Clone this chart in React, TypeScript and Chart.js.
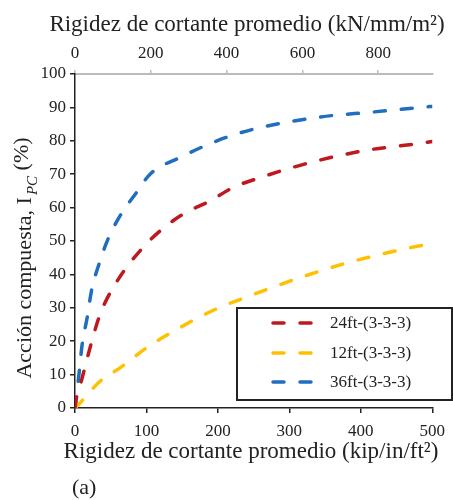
import React, { useEffect, useRef } from 'react';
import { Chart, registerables } from 'chart.js';

Chart.register(...registerables);

const FONT = '"Liberation Serif", "Times New Roman", Times, serif';

// Series data (x: kip/in/ft², y: %)
const red24X = [0, 2, 5, 10, 21, 35, 59, 95, 119, 151, 189, 221, 258, 333, 409, 486, 500];
const red24Y = [0, 3, 5, 9, 18, 28, 38, 48, 53, 58, 62, 66, 68.9, 73.7, 77.2, 79.3, 79.8];

const yel12X = [0, 7, 35, 63, 100, 142, 200, 230, 305, 380, 454, 500];
const yel12Y = [0, 1.5, 8, 12, 18, 23.5, 29.9, 32.4, 38.3, 43.4, 47.3, 49.3];

const blu36X = [0, 2, 5, 10, 17, 23, 35, 46, 63, 86, 105, 147, 184, 221, 256, 342, 416, 489, 500];
const blu36Y = [0, 4, 9, 19, 27, 35, 44, 50.5, 57.5, 64.5, 70, 75, 78.7, 81.7, 83.8, 87.1, 88.6, 90.1, 90.3];

const seriesLabels = ['24ft-(3-3-3)', '12ft-(3-3-3)', '36ft-(3-3-3)'];
const seriesColors = ['#C0181F', '#FFC000', '#1F6FBE'];

const xMin = 0;
const xMax = 500;
const xStep = 100;
const x2Factor = 1.885; // kip/in/ft² -> kN/mm/m²
const x2Ticks = [0, 200, 400, 600, 800];
const yMin = 0;
const yMax = 100;
const yStep = 10;

const topTitle = 'Rigidez de cortante promedio (kN/mm/m²)';
const bottomTitle = 'Rigidez de cortante promedio (kip/in/ft²)';
const yTitleMain = 'Acción compuesta, I';
const yTitleSub = 'PC';
const yTitleEnd = ' (%)';
const panelLabel = '(a)';

const zip = (xs: number[], ys: number[]) => xs.map((x, i) => ({ x, y: ys[i] }));

const annotPlugin = {
  id: 'annot',
  afterDraw(chart: any) {
    const ctx: CanvasRenderingContext2D = chart.ctx;
    const ca = chart.chartArea;
    ctx.save();
    ctx.fillStyle = '#222';
    ctx.textBaseline = 'alphabetic';
    ctx.textAlign = 'center';
    ctx.font = `23px ${FONT}`;
    ctx.fillText(topTitle, ca.left + 172, ca.top - 43);
    ctx.fillText(bottomTitle, ca.left + 176, ca.bottom + 50);
    ctx.textAlign = 'left';
    ctx.font = `22px ${FONT}`;
    ctx.fillText(panelLabel, ca.left - 3, ca.bottom + 86);

    // Y title rotated
    ctx.save();
    const cx = 31;
    const cy = (ca.top + ca.bottom) / 2 + 18;
    ctx.translate(cx, cy);
    ctx.rotate(-Math.PI / 2);
    const mainFont = `22px ${FONT}`;
    const subFont = `italic 15px ${FONT}`;
    ctx.font = mainFont;
    const w1 = ctx.measureText(yTitleMain).width;
    const w3 = ctx.measureText(yTitleEnd).width;
    ctx.font = subFont;
    const w2 = ctx.measureText(yTitleSub).width;
    const total = w1 + w2 + w3;
    let u = -total / 2;
    ctx.textAlign = 'left';
    ctx.font = mainFont;
    ctx.fillText(yTitleMain, u, 0);
    u += w1;
    ctx.font = subFont;
    ctx.fillText(yTitleSub, u + 2, 6);
    u += w2 + 2;
    ctx.font = mainFont;
    ctx.fillText(yTitleEnd, u, -3);
    ctx.restore();

    // Legend box
    const bx = ca.left + 162;
    const by = ca.top + 234;
    const bw = 215;
    const bh = 92;
    ctx.fillStyle = '#fff';
    ctx.fillRect(bx, by, bw, bh);
    ctx.strokeStyle = '#222';
    ctx.lineWidth = 2;
    ctx.strokeRect(bx, by, bw, bh);
    const rows = [15, 45, 74];
    chart.data.datasets.forEach((ds: any, i: number) => {
      const yy = by + rows[i];
      ctx.strokeStyle = ds.borderColor;
      ctx.lineWidth = 3.5;
      ctx.lineCap = 'round';
      ctx.setLineDash([11, 16]);
      ctx.beginPath();
      ctx.moveTo(bx + 36, yy);
      ctx.lineTo(bx + 76, yy);
      ctx.stroke();
      ctx.setLineDash([]);
      ctx.fillStyle = '#222';
      ctx.font = `17px ${FONT}`;
      ctx.textAlign = 'left';
      ctx.textBaseline = 'middle';
      ctx.fillText(ds.label, bx + 93, yy + 1);
    });
    ctx.restore();
  },
};

export default function App() {
  const ref = useRef<HTMLCanvasElement | null>(null);

  useEffect(() => {
    if (!ref.current) return;
    const series = [zip(red24X, red24Y), zip(yel12X, yel12Y), zip(blu36X, blu36Y)];
    const chart = new Chart(ref.current, {
      type: 'line',
      data: {
        datasets: series.map((d, i) => ({
          label: seriesLabels[i],
          data: d,
          borderColor: seriesColors[i],
          backgroundColor: seriesColors[i],
          borderWidth: 3.5,
          borderDash: [11, 16],
          borderCapStyle: 'round' as const,
          pointRadius: 0,
          cubicInterpolationMode: 'monotone' as const,
          fill: false,
          xAxisID: 'x',
          yAxisID: 'y',
        })),
      },
      options: {
        animation: false,
        responsive: false,
        layout: { padding: { left: 0, right: 20, top: 0, bottom: 0 } },
        plugins: { legend: { display: false }, tooltip: { enabled: false } },
        scales: {
          x: {
            type: 'linear',
            position: 'bottom',
            min: xMin,
            max: xMax,
            ticks: { stepSize: xStep, color: '#222', font: { family: FONT, size: 17 }, padding: 8, maxRotation: 0 },
            grid: { display: true, drawOnChartArea: false, drawTicks: true, tickLength: 5, color: '#222', lineWidth: 1.5 },
            border: { display: true, color: '#222', width: 1.5 },
            afterFit: (s: any) => { s.height = 92; },
          },
          x2: {
            type: 'linear',
            position: 'top',
            min: xMin * x2Factor,
            max: xMax * x2Factor,
            ticks: { color: '#222', font: { family: FONT, size: 17 }, padding: 6, maxRotation: 0 },
            afterBuildTicks: (s: any) => { s.ticks = x2Ticks.map((v) => ({ value: v })); },
            grid: { display: true, drawOnChartArea: false, drawTicks: true, tickLength: 4, color: '#bbb', lineWidth: 1.5 },
            border: { display: true, color: '#bbb', width: 2 },
            afterFit: (s: any) => { s.height = 74; },
          },
          y: {
            type: 'linear',
            position: 'left',
            min: yMin,
            max: yMax,
            ticks: { stepSize: yStep, color: '#222', font: { family: FONT, size: 17 }, padding: 4 },
            grid: { display: true, drawOnChartArea: false, drawTicks: true, tickLength: 5, color: '#222', lineWidth: 1.5 },
            border: { display: true, color: '#222', width: 1.5 },
            afterFit: (s: any) => { s.width = 75; },
          },
        },
      },
      plugins: [annotPlugin],
    });
    return () => chart.destroy();
  }, []);

  return (
    <div style={{ position: 'absolute', left: 0, top: 0, width: 453, height: 500, background: '#fff' }}>
      <canvas ref={ref} width={453} height={500} style={{ display: 'block' }} />
    </div>
  );
}
